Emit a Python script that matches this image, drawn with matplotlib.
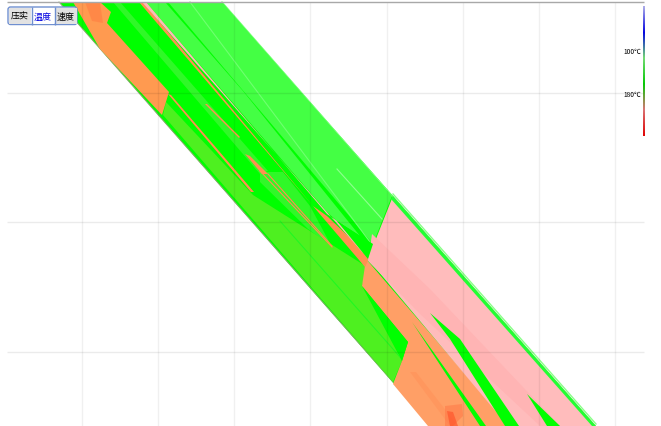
import numpy as np
import matplotlib
matplotlib.use("Agg")
import matplotlib.pyplot as plt
from matplotlib.patches import FancyBboxPatch, Rectangle
from matplotlib.colors import LinearSegmentedColormap

plt.rcParams['font.family'] = ['Noto Sans CJK SC', 'DejaVu Sans']

grid_x = [82, 158, 234, 310, 387, 463, 539, 615]
grid_y = [94, 223, 353]

band_x = [59, 222, 596, 431]
band_y = [3, 3, 427, 427]
upper_x = [168, 222, 392, 373]
upper_y = [3, 3, 197, 245]
strip_x = [146, 165, 243, 360, 337, 327]
strip_y = [3, 3, 92, 237, 222, 213]
wedge_mid_x = [260, 283, 310, 332, 308, 260]
wedge_mid_y = [173, 173, 207, 248, 230, 183]
top_mid_x = [113, 120, 268, 260]
top_mid_y = [3, 3, 172, 175]
lower_x = [163, 393, 402, 362, 367, 253, 212, 166]
lower_y = [116, 383, 362, 287, 268, 196, 152, 103]
lower_line_x = [280, 400]
lower_line_y = [222, 358]
faint_x = [190, 370]
faint_y = [3, 243]
faint2_x = [337, 382]
faint2_y = [170, 220]

pink_x = [393, 596, 508, 368]
pink_y = [197, 427, 427, 260]
pink_line_x = [142, 146, 327, 337, 370, 362]
pink_line_y = [3, 3, 215, 222, 258, 253]
orange_line_x = [139, 143, 313, 327, 370, 365]
orange_line_y = [3, 3, 207, 217, 258, 268]
orange_top_x = [73, 100, 111, 107, 169, 162, 100]
orange_top_y = [3, 3, 13, 24, 93, 116, 50]
orange_low_x = [366, 510, 428, 393, 402, 408, 362]
orange_low_y = [260, 427, 427, 385, 362, 343, 287]
stripe_x = [168, 171, 254, 251]
stripe_y = [95, 96, 193, 193]
stripe2_x = [245, 250, 268, 262]
stripe2_y = [155, 157, 175, 175]
stripe3_x = [205, 207, 240, 239]
stripe3_y = [105, 105, 138, 139]
thin1_x = [260, 332]
thin1_y = [172, 248]
thin2_x = [268, 332]
thin2_y = [175, 247]

edge_x = [393, 596, 592, 391]
edge_y = [197, 427, 427, 200]
spike1_x = [430, 460, 519, 505, 450]
spike1_y = [314, 340, 427, 427, 340]
spike2_x = [527, 560, 547]
spike2_y = [395, 427, 427]
spike3_x = [412, 486, 480]
spike3_y = [323, 427, 427]
bright_low_x = [362, 408, 402, 385]
bright_low_y = [287, 343, 362, 322]
bright_top_x = [337, 373, 368]
bright_top_y = [222, 245, 260]
hot_x = [445, 462, 463, 453, 445]
hot_y = [407, 405, 417, 427, 427]
hot2_x = [447, 453, 458, 450]
hot2_y = [412, 413, 427, 427]
hot_strip_x = [410, 416, 458, 450]
hot_strip_y = [373, 373, 427, 427]
hot_top_x = [85, 100, 103, 92]
hot_top_y = [3, 3, 24, 22]
pink_shade_x = [372, 430, 560, 540, 420, 368]
pink_shade_y = [235, 290, 427, 427, 315, 262]

scale_pos = np.arange(7, 137)
scale_labels = ['100℃', '180℃']
scale_y = [52, 95]
button_labels = ['压实', '温度', '速度']
button_colors = ['black', '#0000e0', 'black']
button_fills = ['#e2e2e2', 'white', '#e2e2e2']
button_left = [8, 31, 54]

fig = plt.figure(figsize=(6.61, 4.27), dpi=100)
ax = fig.add_axes([0, 0, 1, 1])
ax.set_xlim(0, 661)
ax.set_ylim(427, 0)
ax.axis('off')

ax.fill(band_x, band_y, color='#00ff00', lw=0, zorder=2)
ax.plot([59, 393], [3, 383], color='#88a868', lw=0.7, zorder=2)
ax.plot([222, 392], [3, 197], color='#88ff88', lw=1, zorder=2)
ax.plot([393, 596], [195, 425], color='#88ff88', lw=1, zorder=2)
ax.fill(upper_x, upper_y, color='#44ff44', lw=0, zorder=3)
ax.fill(strip_x, strip_y, color='#44ff44', lw=0, zorder=3)
ax.fill(wedge_mid_x, wedge_mid_y, color='#30f828', lw=0, zorder=3)
ax.fill(top_mid_x, top_mid_y, color='#30f828', lw=0, zorder=3)
ax.fill(lower_x, lower_y, color='#4ef020', lw=0, zorder=3)
ax.plot(lower_line_x, lower_line_y, color='#20f820', lw=0.8, zorder=3)
ax.plot(faint_x, faint_y, color='#70ff70', lw=0.8, zorder=3)
ax.plot(faint2_x, faint2_y, color='#90ff90', lw=0.8, zorder=3)
ax.fill(orange_top_x, orange_top_y, color='#ff9a50', lw=0, zorder=4)
ax.fill(hot_top_x, hot_top_y, color='#ff7840', alpha=0.5, lw=0, zorder=4)
ax.fill(orange_low_x, orange_low_y, color='#ff9f66', lw=0, zorder=4)
ax.fill(stripe_x, stripe_y, color='#ff9050', lw=0, zorder=4)
ax.fill(stripe2_x, stripe2_y, color='#ff9050', lw=0, zorder=4)
ax.fill(stripe3_x, stripe3_y, color='#ff9050', lw=0, zorder=4)
ax.plot(thin1_x, thin1_y, color='#ff9050', lw=0.8, zorder=4)
ax.plot(thin2_x, thin2_y, color='#ff9050', lw=0.8, zorder=4)
ax.fill(orange_line_x, orange_line_y, color='#ff9050', lw=0, zorder=4)
ax.fill(pink_x, pink_y, color='#ffbcbc', lw=0, zorder=5)
ax.fill(pink_shade_x, pink_shade_y, color='#ffb4b4', lw=0, zorder=5)
ax.fill(pink_line_x, pink_line_y, color='#ffb8b8', lw=0, zorder=5)
ax.fill(edge_x, edge_y, color='#22ff33', lw=0, zorder=6)
ax.fill(spike1_x, spike1_y, color='#00ff00', lw=0, zorder=6)
ax.fill(spike2_x, spike2_y, color='#00ff00', lw=0, zorder=6)
ax.fill(spike3_x, spike3_y, color='#00ff00', lw=0, zorder=6)
ax.fill(bright_low_x, bright_low_y, color='#00ff00', lw=0, zorder=6)
ax.fill(bright_top_x, bright_top_y, color='#00ff00', lw=0, zorder=6)
ax.fill(hot_strip_x, hot_strip_y, color='#ff7840', alpha=0.2, lw=0, zorder=6)
ax.fill(hot_x, hot_y, color='#ff7040', alpha=0.45, lw=0, zorder=6)
ax.fill(hot2_x, hot2_y, color='#ff3a18', alpha=0.45, lw=0, zorder=6)

ax.hlines(grid_y, 7, 644, color='black', alpha=0.08, lw=1, zorder=7)
ax.vlines(grid_x, 3, 427, color='black', alpha=0.06, lw=1, zorder=7)
ax.hlines(3, 7, 644, color='#a8a8a8', lw=1, zorder=7)

# colour scale on the right
scale_cmap = LinearSegmentedColormap.from_list('scale', ['#a8a8e8', '#0000e0', '#70d870', '#00c800', '#d87070', '#e00000'])
scale_colors = scale_cmap(np.linspace(0, 1, len(scale_pos)))
ax.vlines(np.full(len(scale_pos), 643.5), scale_pos, scale_pos + 1, colors=scale_colors, lw=1.4, zorder=7)
for lab, y in zip(scale_labels, scale_y):
    ax.text(641, y, lab, fontsize=4.8, ha='right', va='center', color='black', zorder=8)

# buttons
ax.add_patch(FancyBboxPatch((8, 8), 69, 17.5, boxstyle='round,pad=0,rounding_size=2.5',
                            fc='white', ec='#6f8fd0', lw=1, zorder=8))
for lab, col, fc, left in zip(button_labels, button_colors, button_fills, button_left):
    ax.add_patch(Rectangle((left + 1, 9), 21.5, 15.5, fc=fc, ec='none', zorder=9))
    ax.text(left + 11.5, 17, lab, fontsize=6.5, ha='center', va='center', color=col, zorder=10)
ax.vlines([31.5, 54.5], 8, 25.5, color='#6f8fd0', lw=1, zorder=10)

fig.savefig('out.png', dpi=100)
